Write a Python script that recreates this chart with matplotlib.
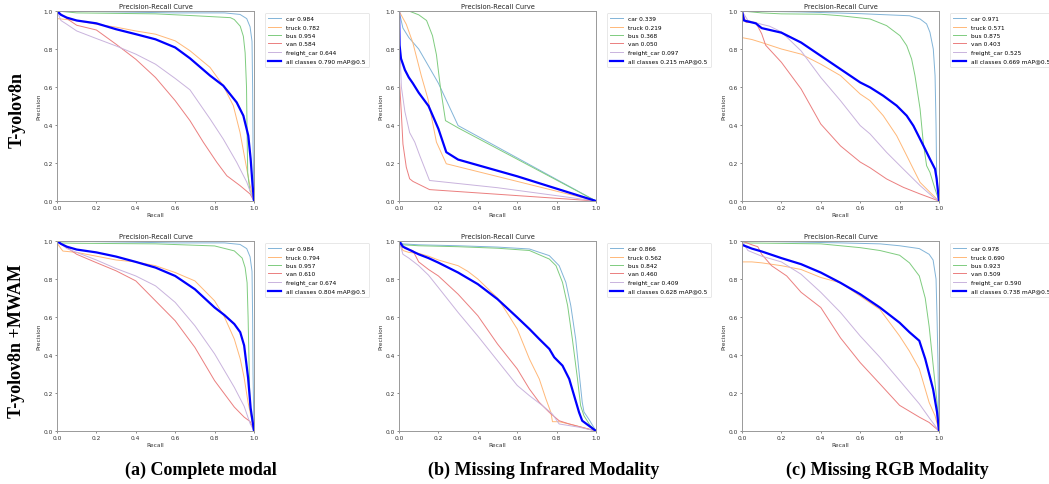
import matplotlib
matplotlib.use("Agg")
import matplotlib.pyplot as plt

# ---------------- data ----------------
classes = ["car", "truck", "bus", "van", "freight_car"]

# Panel A1: T-yolov8n, complete modal
ap_a1 = [0.984, 0.782, 0.954, 0.584, 0.644]; map_a1 = 0.790
a1_car_r = [0, 0.3, 0.6, 0.85, 0.929, 0.963, 0.98, 0.99, 0.993, 0.995, 1.0]
a1_car_p = [1.0, 0.995, 0.99, 0.99, 0.982, 0.96, 0.917, 0.84, 0.6, 0.3, 0.0]
a1_truck_r = [0, 0.05, 0.1, 0.2, 0.3, 0.4, 0.5, 0.6, 0.675, 0.777, 0.844, 0.895, 0.929, 0.954, 0.976, 1.0]
a1_truck_p = [0.96, 0.955, 0.95, 0.93, 0.915, 0.895, 0.878, 0.843, 0.791, 0.703, 0.607, 0.502, 0.361, 0.221, 0.098, 0.0]
a1_bus_r = [0, 0.1, 0.5, 0.7, 0.88, 0.9, 0.93, 0.946, 0.955, 0.962, 0.965, 0.968, 0.978, 1.0]
a1_bus_p = [1.0, 0.99, 0.985, 0.975, 0.965, 0.955, 0.92, 0.867, 0.78, 0.6, 0.35, 0.15, 0.06, 0.0]
a1_van_r = [0, 0.05, 0.1, 0.2, 0.3, 0.4, 0.5, 0.6, 0.675, 0.743, 0.811, 0.862, 0.929, 0.98, 1.0]
a1_van_p = [1.0, 0.96, 0.925, 0.9, 0.825, 0.746, 0.65, 0.528, 0.423, 0.309, 0.204, 0.133, 0.081, 0.037, 0.0]
a1_frt_r = [0, 0.02, 0.05, 0.1, 0.2, 0.3, 0.4, 0.5, 0.6, 0.675, 0.777, 0.844, 0.912, 0.963, 0.988, 1.0]
a1_frt_p = [1.0, 0.95, 0.93, 0.895, 0.855, 0.816, 0.773, 0.72, 0.645, 0.585, 0.432, 0.326, 0.204, 0.1, 0.03, 0.0]
a1_all_r = [0, 0.02, 0.05, 0.1, 0.2, 0.3, 0.4, 0.5, 0.6, 0.675, 0.777, 0.844, 0.912, 0.946, 0.971, 0.983, 0.993, 1.0]
a1_all_p = [1.0, 0.98, 0.965, 0.95, 0.935, 0.904, 0.878, 0.851, 0.808, 0.751, 0.66, 0.607, 0.519, 0.449, 0.344, 0.221, 0.08, 0.0]

# Panel B1: T-yolov8n, missing infrared
ap_b1 = [0.339, 0.219, 0.368, 0.050, 0.097]; map_b1 = 0.215
b1_car_r = [0, 0.02, 0.05, 0.1, 0.2, 0.3, 1.0]
b1_car_p = [1.0, 0.91, 0.86, 0.8, 0.62, 0.397, 0.0]
b1_truck_r = [0, 0.037, 0.07, 0.113, 0.147, 0.19, 0.24, 1.0]
b1_truck_p = [1.0, 0.93, 0.834, 0.66, 0.537, 0.31, 0.196, 0.0]
b1_bus_r = [0, 0.05, 0.1, 0.14, 0.17, 0.19, 0.21, 0.236, 0.3, 1.0]
b1_bus_p = [1.0, 1.0, 0.98, 0.95, 0.87, 0.77, 0.6, 0.423, 0.385, 0.0]
b1_van_r = [0.003, 0.012, 0.02, 0.037, 0.054, 0.071, 0.155, 1.0]
b1_van_p = [0.62, 0.46, 0.30, 0.178, 0.117, 0.103, 0.06, 0.0]
b1_frt_r = [0.005, 0.012, 0.03, 0.054, 0.08, 0.105, 0.155, 0.5, 1.0]
b1_frt_p = [0.8, 0.6, 0.47, 0.36, 0.31, 0.24, 0.108, 0.07, 0.0]
b1_all_r = [0, 0.003, 0.01, 0.03, 0.05, 0.07, 0.1, 0.15, 0.2, 0.24, 0.3, 0.6, 0.8, 1.0]
b1_all_p = [1.0, 0.82, 0.75, 0.69, 0.65, 0.62, 0.57, 0.5, 0.38, 0.257, 0.218, 0.13, 0.065, 0.0]

# Panel C1: T-yolov8n, missing RGB
ap_c1 = [0.971, 0.571, 0.875, 0.403, 0.525]; map_c1 = 0.669
c1_car_r = [0, 0.3, 0.6, 0.85, 0.904, 0.937, 0.954, 0.971, 0.98, 0.985, 0.988, 1.0]
c1_car_p = [1.0, 0.995, 0.986, 0.975, 0.958, 0.932, 0.888, 0.8, 0.66, 0.4, 0.14, 0.0]
c1_truck_r = [0, 0, 0.05, 0.1, 0.2, 0.3, 0.4, 0.5, 0.6, 0.65, 0.717, 0.785, 0.836, 0.87, 0.904, 0.954, 1.0]
c1_truck_p = [1.0, 0.86, 0.85, 0.834, 0.8, 0.773, 0.72, 0.66, 0.563, 0.528, 0.449, 0.344, 0.239, 0.168, 0.098, 0.046, 0.0]
c1_bus_r = [0, 0.1, 0.2, 0.4, 0.5, 0.65, 0.734, 0.802, 0.836, 0.861, 0.878, 0.904, 0.92, 0.937, 0.954, 0.98, 1.0]
c1_bus_p = [1.0, 0.99, 0.985, 0.983, 0.975, 0.958, 0.923, 0.87, 0.818, 0.747, 0.66, 0.484, 0.309, 0.186, 0.151, 0.063, 0.0]
c1_van_r = [0, 0.02, 0.07, 0.1, 0.12, 0.2, 0.3, 0.4, 0.5, 0.6, 0.65, 0.734, 0.819, 0.904, 1.0]
c1_van_p = [1.0, 0.94, 0.94, 0.88, 0.82, 0.73, 0.59, 0.405, 0.29, 0.205, 0.175, 0.116, 0.072, 0.037, 0.0]
c1_frt_r = [0, 0.03, 0.1, 0.14, 0.2, 0.3, 0.4, 0.5, 0.6, 0.65, 0.734, 0.819, 0.904, 0.971, 1.0]
c1_frt_p = [1.0, 0.95, 0.93, 0.92, 0.89, 0.79, 0.65, 0.528, 0.397, 0.353, 0.256, 0.168, 0.081, 0.02, 0.0]
c1_all_r = [0, 0.01, 0.03, 0.07, 0.1, 0.2, 0.3, 0.4, 0.5, 0.6, 0.65, 0.717, 0.785, 0.836, 0.87, 0.904, 0.929, 0.954, 0.98, 0.988, 1.0]
c1_all_p = [1.0, 0.95, 0.945, 0.935, 0.91, 0.886, 0.834, 0.764, 0.694, 0.624, 0.598, 0.554, 0.502, 0.449, 0.396, 0.326, 0.274, 0.221, 0.168, 0.116, 0.0]

# Panel A2: T-yolov8n +MWAM, complete modal
ap_a2 = [0.984, 0.794, 0.957, 0.610, 0.674]; map_a2 = 0.804
a2_car_r = [0, 0.3, 0.6, 0.85, 0.929, 0.963, 0.98, 0.99, 0.993, 0.995, 1.0]
a2_car_p = [1.0, 0.995, 0.99, 0.99, 0.982, 0.96, 0.917, 0.84, 0.6, 0.3, 0.0]
a2_truck_r = [0, 0.02, 0.03, 0.1, 0.2, 0.3, 0.4, 0.5, 0.6, 0.7, 0.8, 0.85, 0.9, 0.93, 0.95, 0.97, 1.0]
a2_truck_p = [0.99, 0.96, 0.947, 0.94, 0.92, 0.9, 0.89, 0.87, 0.834, 0.79, 0.685, 0.6, 0.484, 0.38, 0.28, 0.15, 0.0]
a2_bus_r = [0, 0.1, 0.5, 0.8, 0.9, 0.94, 0.955, 0.965, 0.97, 0.975, 0.98, 1.0]
a2_bus_p = [0.99, 0.988, 0.985, 0.974, 0.948, 0.91, 0.86, 0.78, 0.6, 0.35, 0.12, 0.0]
a2_van_r = [0, 0.03, 0.1, 0.2, 0.3, 0.4, 0.5, 0.6, 0.7, 0.8, 0.9, 0.95, 0.98, 1.0]
a2_van_p = [1.0, 0.98, 0.93, 0.886, 0.843, 0.79, 0.685, 0.58, 0.44, 0.265, 0.126, 0.073, 0.05, 0.0]
a2_frt_r = [0, 0.05, 0.1, 0.2, 0.3, 0.4, 0.5, 0.6, 0.7, 0.8, 0.9, 0.95, 0.98, 1.0]
a2_frt_p = [1.0, 0.96, 0.94, 0.9, 0.855, 0.816, 0.764, 0.677, 0.554, 0.406, 0.23, 0.13, 0.04, 0.0]
a2_all_r = [0, 0.02, 0.05, 0.1, 0.2, 0.3, 0.4, 0.5, 0.6, 0.7, 0.8, 0.85, 0.9, 0.93, 0.95, 0.97, 0.983, 0.993, 1.0]
a2_all_p = [1.0, 0.985, 0.97, 0.955, 0.94, 0.918, 0.89, 0.86, 0.816, 0.746, 0.65, 0.61, 0.563, 0.52, 0.45, 0.28, 0.12, 0.05, 0.0]

# Panel B2: T-yolov8n +MWAM, missing infrared
ap_b2 = [0.866, 0.562, 0.842, 0.460, 0.409]; map_b2 = 0.628
b2_car_r = [0, 0.02, 0.1, 0.3, 0.5, 0.662, 0.763, 0.813, 0.847, 0.872, 0.897, 0.914, 0.93, 0.939, 0.965, 1.0]
b2_car_p = [1.0, 0.985, 0.98, 0.975, 0.968, 0.958, 0.923, 0.87, 0.782, 0.66, 0.484, 0.31, 0.152, 0.1, 0.06, 0.0]
b2_truck_r = [0, 0.02, 0.05, 0.1, 0.15, 0.2, 0.3, 0.35, 0.4, 0.45, 0.5, 0.55, 0.6, 0.662, 0.712, 0.746, 0.771, 0.779, 0.813, 0.864, 1.0]
b2_truck_p = [1.0, 0.95, 0.94, 0.935, 0.92, 0.9, 0.87, 0.84, 0.8, 0.75, 0.7, 0.62, 0.537, 0.379, 0.274, 0.168, 0.098, 0.049, 0.049, 0.037, 0.0]
b2_bus_r = [0, 0.02, 0.1, 0.3, 0.5, 0.662, 0.763, 0.797, 0.83, 0.856, 0.88, 0.906, 0.922, 0.939, 0.97, 1.0]
b2_bus_p = [0.99, 0.98, 0.975, 0.97, 0.962, 0.95, 0.905, 0.87, 0.782, 0.66, 0.484, 0.274, 0.133, 0.08, 0.03, 0.0]
b2_van_r = [0, 0.03, 0.07, 0.1, 0.15, 0.2, 0.3, 0.4, 0.5, 0.6, 0.662, 0.712, 0.763, 0.813, 0.864, 1.0]
b2_van_p = [1.0, 0.96, 0.95, 0.89, 0.85, 0.816, 0.72, 0.607, 0.458, 0.327, 0.221, 0.151, 0.098, 0.054, 0.037, 0.0]
b2_frt_r = [0, 0.02, 0.05, 0.1, 0.15, 0.2, 0.3, 0.4, 0.5, 0.6, 0.662, 0.729, 0.779, 0.813, 0.914, 1.0]
b2_frt_p = [1.0, 0.93, 0.91, 0.87, 0.82, 0.755, 0.624, 0.5, 0.37, 0.24, 0.186, 0.133, 0.089, 0.037, 0.02, 0.0]
b2_all_r = [0, 0.02, 0.05, 0.1, 0.15, 0.2, 0.3, 0.4, 0.5, 0.6, 0.662, 0.712, 0.763, 0.788, 0.83, 0.864, 0.889, 0.914, 0.93, 0.965, 1.0]
b2_all_p = [1.0, 0.97, 0.955, 0.93, 0.91, 0.886, 0.834, 0.773, 0.694, 0.598, 0.537, 0.484, 0.432, 0.388, 0.344, 0.274, 0.186, 0.098, 0.054, 0.027, 0.0]

# Panel C2: T-yolov8n +MWAM, missing RGB
ap_c2 = [0.978, 0.690, 0.923, 0.509, 0.590]; map_c2 = 0.738
c2_car_r = [0, 0.5, 0.7, 0.8, 0.9, 0.95, 0.97, 0.985, 0.99, 0.995, 1.0]
c2_car_p = [1.0, 0.99, 0.985, 0.975, 0.96, 0.93, 0.9, 0.8, 0.6, 0.35, 0.0]
c2_truck_r = [0, 0, 0.05, 0.1, 0.2, 0.3, 0.4, 0.5, 0.6, 0.7, 0.8, 0.85, 0.9, 0.95, 0.98, 1.0]
c2_truck_p = [1.0, 0.89, 0.89, 0.885, 0.87, 0.85, 0.808, 0.78, 0.71, 0.64, 0.5, 0.42, 0.327, 0.15, 0.08, 0.0]
c2_bus_r = [0, 0.4, 0.5, 0.6, 0.7, 0.8, 0.85, 0.9, 0.93, 0.95, 0.97, 0.99, 1.0]
c2_bus_p = [0.99, 0.985, 0.975, 0.965, 0.95, 0.925, 0.885, 0.816, 0.7, 0.55, 0.35, 0.15, 0.0]
c2_van_r = [0, 0.05, 0.08, 0.1, 0.15, 0.227, 0.3, 0.4, 0.5, 0.6, 0.7, 0.8, 0.9, 0.95, 1.0]
c2_van_p = [1.0, 0.98, 0.97, 0.93, 0.87, 0.816, 0.73, 0.65, 0.49, 0.36, 0.248, 0.135, 0.073, 0.045, 0.0]
c2_frt_r = [0, 0.03, 0.1, 0.2, 0.3, 0.4, 0.5, 0.6, 0.7, 0.8, 0.9, 0.95, 1.0]
c2_frt_p = [1.0, 0.95, 0.92, 0.89, 0.825, 0.73, 0.624, 0.5, 0.388, 0.266, 0.143, 0.07, 0.0]
c2_all_r = [0, 0.05, 0.1, 0.2, 0.3, 0.4, 0.5, 0.6, 0.7, 0.8, 0.85, 0.9, 0.93, 0.95, 0.97, 0.99, 1.0]
c2_all_p = [0.98, 0.96, 0.945, 0.91, 0.878, 0.834, 0.78, 0.72, 0.65, 0.57, 0.52, 0.475, 0.38, 0.3, 0.22, 0.1, 0.0]

row_labels = ["T-yolov8n", "T-yolov8n +MWAM"]
captions = ["(a) Complete modal", "(b) Missing Infrared Modality", "(c) Missing RGB Modality"]
ticks = [0.0, 0.2, 0.4, 0.6, 0.8, 1.0]

panels = [
    [(ap_a1, map_a1, [(a1_car_r, a1_car_p), (a1_truck_r, a1_truck_p), (a1_bus_r, a1_bus_p), (a1_van_r, a1_van_p), (a1_frt_r, a1_frt_p)], (a1_all_r, a1_all_p)),
     (ap_b1, map_b1, [(b1_car_r, b1_car_p), (b1_truck_r, b1_truck_p), (b1_bus_r, b1_bus_p), (b1_van_r, b1_van_p), (b1_frt_r, b1_frt_p)], (b1_all_r, b1_all_p)),
     (ap_c1, map_c1, [(c1_car_r, c1_car_p), (c1_truck_r, c1_truck_p), (c1_bus_r, c1_bus_p), (c1_van_r, c1_van_p), (c1_frt_r, c1_frt_p)], (c1_all_r, c1_all_p))],
    [(ap_a2, map_a2, [(a2_car_r, a2_car_p), (a2_truck_r, a2_truck_p), (a2_bus_r, a2_bus_p), (a2_van_r, a2_van_p), (a2_frt_r, a2_frt_p)], (a2_all_r, a2_all_p)),
     (ap_b2, map_b2, [(b2_car_r, b2_car_p), (b2_truck_r, b2_truck_p), (b2_bus_r, b2_bus_p), (b2_van_r, b2_van_p), (b2_frt_r, b2_frt_p)], (b2_all_r, b2_all_p)),
     (ap_c2, map_c2, [(c2_car_r, c2_car_p), (c2_truck_r, c2_truck_p), (c2_bus_r, c2_bus_p), (c2_van_r, c2_van_p), (c2_frt_r, c2_frt_p)], (c2_all_r, c2_all_p))],
]

# ---------------- styling ----------------
class_colors = ["#82b4d8", "#ffb878", "#7fcc7f", "#eb7f7f", "#c9b3dd"]
fs_small = 4.2
W, H = 1049, 485
fig = plt.figure(figsize=(W / 100, H / 100), dpi=100)

col_left = [57, 399, 742]
ax_w = 197
row_top = [12, 242]
ax_h = 190

for ri in range(2):
    for ci in range(3):
        ap, mp, curves, allc = panels[ri][ci]
        x0 = col_left[ci] / W
        y0 = 1 - (row_top[ri] + ax_h) / H
        ax = fig.add_axes([x0, y0, ax_w / W, ax_h / H])
        for k, (r, p) in enumerate(curves):
            ax.plot(r, p, color=class_colors[k], lw=0.7, label=f"{classes[k]} {ap[k]:.3f}")
        ax.plot(allc[0], allc[1], color="blue", lw=1.6, label=f"all classes {mp:.3f} mAP@0.5")
        ax.set_xlim(0, 1)
        ax.set_ylim(0, 1)
        ax.set_xticks(ticks)
        ax.set_yticks(ticks)
        ax.tick_params(labelsize=fs_small, length=1.5, width=0.4, pad=1.5, colors="#333333")
        ax.set_xlabel("Recall", fontsize=fs_small, labelpad=1.5, color="#333333")
        ax.set_ylabel("Precision", fontsize=fs_small, labelpad=1.5, color="#333333")
        ax.set_title("Precision-Recall Curve", fontsize=4.8, pad=2.5, color="#222222")
        for s in ax.spines.values():
            s.set_color("#999999")
            s.set_linewidth(0.7)
        leg = ax.legend(loc="upper left", bbox_to_anchor=(1.055, 0.99), fontsize=fs_small,
                        frameon=True, borderpad=0.6, labelspacing=0.55, handlelength=2.2,
                        handletextpad=0.8, borderaxespad=0)
        leg.get_frame().set_linewidth(0.4)
        leg.get_frame().set_edgecolor("#cccccc")

# row labels
fig.text(17 / W, 1 - 110 / H, row_labels[0], rotation=90, ha="center", va="center",
         fontsize=13, fontweight="bold", family="Liberation Serif")
fig.text(17 / W, 1 - 341 / H, row_labels[1], rotation=90, ha="center", va="center",
         fontsize=13, fontweight="bold", family="Liberation Serif")

# captions
cap_x = [201, 544, 887]
for cx, cap in zip(cap_x, captions):
    fig.text(cx / W, 1 - 470 / H, cap, ha="center", va="center",
             fontsize=13, fontweight="bold", family="Liberation Serif")

fig.savefig("out.png", dpi=100)
